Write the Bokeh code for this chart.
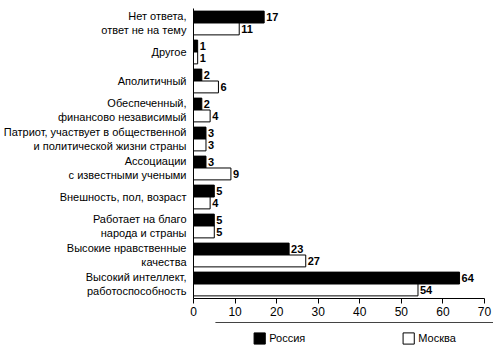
from bokeh.plotting import figure
from bokeh.models import ColumnDataSource, Legend, LegendItem
from bokeh.layouts import column
from bokeh.transform import dodge
from bokeh.core.properties import value
from bokeh.embed import file_html
from bokeh.resources import INLINE

categories = [
    "Нет ответа,\nответ не на тему",
    "Другое",
    "Аполитичный",
    "Обеспеченный,\nфинансово независимый",
    "Патриот, участвует в общественной\nи политической жизни страны",
    "Ассоциации\nс известными учеными",
    "Внешность, пол, возраст",
    "Работает на благо\nнарода и страны",
    "Высокие нравственные\nкачества",
    "Высокий интеллект,\nработоспособность",
]
russia = [17, 1, 2, 2, 3, 3, 5, 5, 23, 64]
moscow = [11, 1, 6, 4, 3, 9, 4, 5, 27, 54]
x_ticks = [0, 10, 20, 30, 40, 50, 60, 70]
series_names = ["Россия", "Москва"]

FONT = "Liberation Sans"

src = ColumnDataSource(dict(cat=categories, russia=russia, moscow=moscow,
                            rl=[str(v) for v in russia], ml=[str(v) for v in moscow]))

p = figure(width=493, height=322, y_range=list(reversed(categories)), x_range=(0, 70),
           output_backend="svg", toolbar_location=None,
           min_border_left=193, min_border_right=9, min_border_top=8, min_border_bottom=24)
p.frame_align = False

bh = 0.41
p.hbar(y=dodge("cat", bh / 2, range=p.y_range), right="russia", left=0, height=bh,
       source=src, fill_color="black", line_color="black")
p.hbar(y=dodge("cat", -bh / 2, range=p.y_range), right="moscow", left=0, height=bh,
       source=src, fill_color="white", line_color="black")

p.text(x="russia", y=dodge("cat", bh / 2, range=p.y_range), text="rl", source=src,
       x_offset=2, text_baseline="middle", text_font=value(FONT), text_font_size="11px",
       text_font_style="bold", text_color="black")
p.text(x="moscow", y=dodge("cat", -bh / 2, range=p.y_range), text="ml", source=src,
       x_offset=2, text_baseline="middle", text_font=value(FONT), text_font_size="11px",
       text_font_style="bold", text_color="black")

p.xgrid.visible = False
p.ygrid.visible = False
p.outline_line_color = None

p.xaxis.ticker = x_ticks
p.xaxis.major_tick_in = 0
p.xaxis.major_tick_out = 5
p.xaxis.minor_tick_line_color = None
p.xaxis.major_label_text_font = FONT
p.xaxis.major_label_text_font_size = "12px"
p.xaxis.major_label_text_color = "black"
p.xaxis.axis_line_color = "black"
p.xaxis.major_tick_line_color = "black"
p.xaxis.major_label_standoff = 3

p.yaxis.major_tick_line_color = None
p.yaxis.minor_tick_line_color = None
p.yaxis.major_tick_out = 0
p.yaxis.major_label_standoff = 7
p.yaxis.major_label_text_font = FONT
p.yaxis.major_label_text_font_size = "11px"
p.yaxis.major_label_text_color = "black"
p.yaxis.axis_line_color = "black"

# legend strip below the chart
lg = figure(width=493, height=31, x_range=(0, 1), y_range=(0, 1),
            output_backend="svg", toolbar_location=None,
            min_border_left=215, min_border_right=0, min_border_top=0, min_border_bottom=0,
            x_axis_location=None, y_axis_location=None)
lg.frame_align = False
lg.outline_line_color = None
lg.xgrid.visible = False
lg.ygrid.visible = False
hidden = ColumnDataSource(dict(y=[10], right=[10]))
d1 = lg.hbar(y="y", right="right", height=1, source=hidden, fill_color="black", line_color="black")
d2 = lg.hbar(y="y", right="right", height=1, source=hidden, fill_color="white", line_color="black")

leg = Legend(items=[LegendItem(label=series_names[0], renderers=[d1]),
                    LegendItem(label=series_names[1], renderers=[d2])],
             location="center", orientation="horizontal", spacing=96,
             glyph_width=14, glyph_height=14, label_standoff=3,
             label_text_font=FONT, label_text_font_size="11px", label_text_color="black",
             label_height=14, border_line_color=None, background_fill_alpha=0,
             padding=2, margin=0)
lg.add_layout(leg, "center")

open("out.html", "w").write(file_html(column(p, lg, spacing=0), INLINE))
